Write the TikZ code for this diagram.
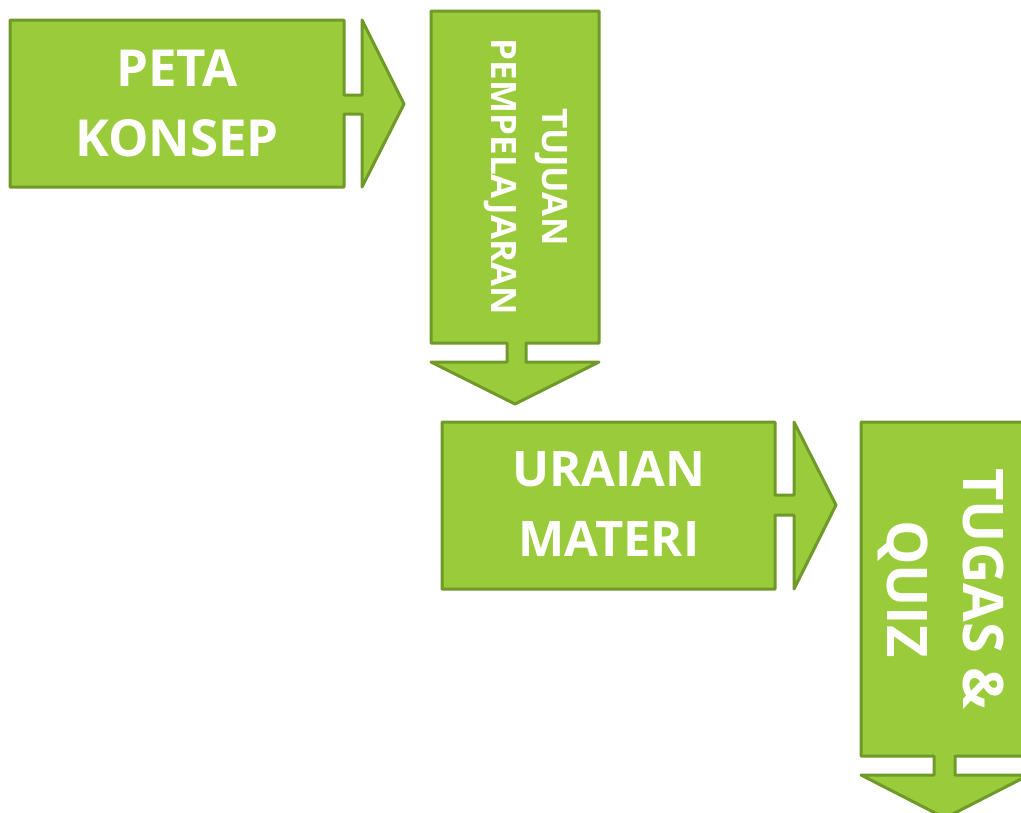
\documentclass[tikz,border=0pt]{standalone}
\usepackage{fontspec}
\setmainfont{Open Sans}
\definecolor{hijau}{HTML}{9ACB3A}
\definecolor{hijautua}{HTML}{6F9A2A}
\tikzset{blok/.style={fill=hijau,draw=hijautua,line width=3pt,line join=round},
         teks/.style={text=white,align=center,inner sep=0pt}}

\begin{document}
\begin{tikzpicture}[x=1pt,y=-1pt]
\useasboundingbox (0,0) rectangle (1021,812);

% panah ke kanan
\draw[blok] (10,20) -- (344,20) -- (344,95) -- (362,95) -- (362,20) -- (404,104)
  -- (362,187) -- (362,114) -- (344,114) -- (344,187) -- (10,187) -- cycle;
\draw[blok] (442,422) -- (775,422) -- (775,495) -- (794,495) -- (794,422) -- (836,505)
  -- (794,589) -- (794,515) -- (775,515) -- (775,589) -- (442,589) -- cycle;

% panah ke bawah
\draw[blok] (431,11) -- (431,343) -- (507,343) -- (507,362) -- (431,362) -- (515,404)
  -- (599,362) -- (526,362) -- (526,343) -- (599,343) -- (599,11) -- cycle;
\draw[blok] (861,422) -- (861,756) -- (934,756) -- (934,775) -- (861,775) -- (945,818)
  -- (1029,775) -- (955,775) -- (955,756) -- (1029,756) -- (1029,422) -- cycle;

\node[teks,font=\bfseries\fontsize{51}{70}\selectfont] (peta) at (177,103) {PETA\\KONSEP};
\node[teks,font=\bfseries\fontsize{35}{51}\selectfont,rotate=-90] (tujuan) at (526,177) {TUJUAN\\PEMPELAJARAN};
\node[teks,font=\bfseries\fontsize{49}{70}\selectfont] (uraian) at (609,504) {URAIAN\\MATERI};
\node[teks,font=\bfseries\fontsize{56}{76}\selectfont,rotate=-90] (tugas) at (941,589) {TUGAS \&\\QUIZ};

\end{tikzpicture}
\end{document}
